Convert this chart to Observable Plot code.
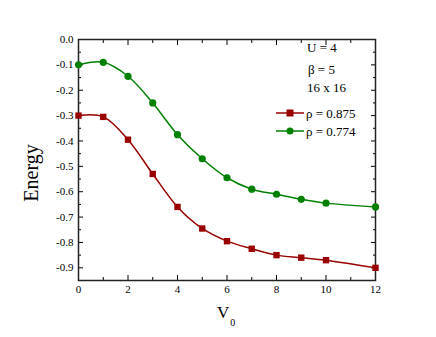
<!DOCTYPE html>
<html><head><meta charset="utf-8">
<script src="https://cdn.jsdelivr.net/npm/d3@7"></script>
<script src="https://cdn.jsdelivr.net/npm/@observablehq/plot@0.6"></script>
<style>body{margin:0;background:#fff}#c{position:relative;width:436px;height:337px}
#c svg, #c svg text{font-family:'Liberation Serif','Times New Roman',serif !important}</style>
</head><body><div id="c"></div>
<script>
const v0 = [0,1,2,3,4,5,6,7,8,9,10,12];
const e875 = [-0.30,-0.305,-0.395,-0.53,-0.66,-0.745,-0.795,-0.825,-0.85,-0.86,-0.87,-0.90];
const e774 = [-0.10,-0.09,-0.145,-0.25,-0.375,-0.47,-0.545,-0.59,-0.61,-0.63,-0.645,-0.66];
const seriesNames = ["ρ = 0.875","ρ = 0.774"];
const seriesColors = ["#990000","#008000"];
const xTicks = [0,2,4,6,8,10,12];
const xMinor = [1,3,5,7,9,11];
const yTicks = [0,-0.1,-0.2,-0.3,-0.4,-0.5,-0.6,-0.7,-0.8,-0.9];
const yMinor = [-0.05,-0.15,-0.25,-0.35,-0.45,-0.55,-0.65,-0.75,-0.85];
const infoLines = ["U = 4","β = 5","16 x 16"];

const d875 = v0.map((x,i)=>({x, y:e875[i]}));
const d774 = v0.map((x,i)=>({x, y:e774[i]}));
const font = "'Liberation Serif','Times New Roman',serif";

const plot = Plot.plot({
  width: 436, height: 337,
  marginLeft: 78, marginRight: 61, marginTop: 39, marginBottom: 57,
  style: "font-family:'Liberation Serif','Times New Roman',serif;font-size:11px;color:#000;background:#fff",
  x: {domain: [0,12], label: null},
  y: {domain: [-0.95,0], label: null},
  marks: [
    Plot.axisX(xTicks, {anchor:"bottom", tickSize:-5, tickPadding:10, tickFormat: d=>String(d), fontSize: 11}),
    Plot.axisX(xMinor, {anchor:"bottom", tickSize:-3, tickFormat: ()=>""}),
    Plot.axisX(xTicks, {anchor:"top", tickSize:-5, tickFormat: ()=>""}),
    Plot.axisX(xMinor, {anchor:"top", tickSize:-3, tickFormat: ()=>""}),
    Plot.axisY(yTicks, {anchor:"left", tickSize:-5, tickPadding:10, tickFormat: d=>d===0?"0.0":d3.format(".1f")(d).replace("−","-"), fontSize: 11}),
    Plot.axisY(yMinor, {anchor:"left", tickSize:-3, tickFormat: ()=>""}),
    Plot.axisY(yTicks, {anchor:"right", tickSize:-5, tickFormat: ()=>""}),
    Plot.axisY(yMinor, {anchor:"right", tickSize:-3, tickFormat: ()=>""}),
    Plot.frame({stroke:"#222", strokeWidth:1.5}),
    Plot.line(d875, {x:"x", y:"y", stroke: seriesColors[0], strokeWidth:1.5, curve:"catmull-rom"}),
    Plot.line(d774, {x:"x", y:"y", stroke: seriesColors[1], strokeWidth:1.5, curve:"catmull-rom"}),
    Plot.dot(d875, {x:"x", y:"y", symbol:"square", r:3.6, fill: seriesColors[0], stroke:"none"}),
    Plot.dot(d774, {x:"x", y:"y", symbol:"circle", r:3.6, fill: seriesColors[1], stroke:"none"})
  ]
});
document.getElementById("c").appendChild(plot);

const svg = d3.select(plot);
// info block
const info = svg.append("g").attr("font-family", font).attr("font-size", 13).attr("text-anchor","start");
infoLines.forEach((t,i)=>{
  info.append("text").attr("x",[307,308,307][i]).attr("y",[47,69,87][i]).attr("dy","0.35em").text(t);
});
// legend
const lg = svg.append("g").attr("font-family", font).attr("font-size", 13).attr("text-anchor","start");
[0,1].forEach(i=>{
  const y = 113 + i*18;
  lg.append("line").attr("x1",276).attr("x2",304).attr("y1",y).attr("y2",y).attr("stroke",seriesColors[i]).attr("stroke-width",1.5);
  if(i===0) lg.append("rect").attr("x",286.5).attr("y",y-3.5).attr("width",7).attr("height",7).attr("fill",seriesColors[i]);
  else lg.append("circle").attr("cx",290).attr("cy",y).attr("r",3.5).attr("fill",seriesColors[i]);
  lg.append("text").attr("x",306).attr("y",y).attr("dy","0.35em").text(seriesNames[i]);
});
// axis titles
svg.append("text").attr("transform","translate(38,173) rotate(-90)").attr("text-anchor","middle")
  .attr("font-family",font).attr("font-size",20).text("Energy");
const xt = svg.append("text").attr("x",217).attr("y",318).attr("text-anchor","start").attr("font-family",font).attr("font-size",17);
xt.append("tspan").text("V");
xt.append("tspan").attr("font-size",10).attr("dy",8).attr("dx",1).text("0");
</script></body></html>
